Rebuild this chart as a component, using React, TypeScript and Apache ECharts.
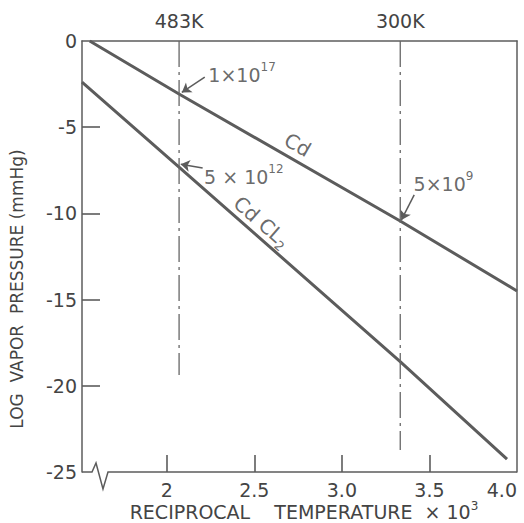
import React, { useEffect, useRef } from 'react';
import * as echarts from 'echarts';

// ---- data ----
const xMin = 1.516;
const xMax = 4.0;
const yMin = -25;
const yMax = 0;
const xTickValues = [2, 2.5, 3.0, 3.5, 4.0];
const yTickValues = [-5, -10, -15, -20];
const kelvinMarks = [1000 / 483, 1000 / 300];

const cdLine = [[1.56, 0], [2.07, -3.07], [3.333, -10.44], [4.0, -14.5]];
const cdcl2Line = [[1.516, -2.38], [2.07, -7.31], [3.333, -18.6], [3.943, -24.25]];
const guide483 = [[2.0704, 0], [2.0704, -19.37]];
const guide300 = [[3.3333, 0], [3.3333, -23.72]];

const arrowCoords = [
  [[2.217, -2.09], [2.086, -2.98]],
  [[2.205, -7.37], [2.08, -7.15]],
  [[3.413, -8.93], [3.34, -10.38]],
];

const annoPos = [[2.43, -1.97], [2.44, -7.89], [3.58, -8.29]];
const annoBase = ['1×10', '5 × 10', '5×10'];
const annoExp = ['17', '12', '9'];

const curvePos = [[2.747, -6.03], [2.542, -10.5]];
const curveText = ['{b|Cd}', '{b|Cd CL}{sub|2}'];
const curveRotate = [-30, -41];

const FONT = 'DejaVu Sans';
const INK = '#444444';
const LINE = '#5c5c5c';

// layout (pixels)
const W = 524;
const H = 523;
const GRID = { left: 82, right: 7, top: 41, bottom: 51 };
const TICK_PX_X = 17; // length of x ticks (vertical)
const TICK_PX_Y = 18; // length of y ticks (horizontal)

export default function App() {
  const ref = useRef<HTMLDivElement>(null);
  useEffect(() => {
    document.body.style.margin = '0';
    const chart = echarts.init(ref.current!, undefined, { renderer: 'svg' });
    const textBase = { fontFamily: FONT, color: INK };
    const gridW = W - GRID.left - GRID.right;
    const gridH = H - GRID.top - GRID.bottom;
    const tickLenY = ((yMax - yMin) * TICK_PX_X) / gridH;
    const tickLenX = ((xMax - xMin) * TICK_PX_Y) / gridW;
    const tickCoords = [
      ...xTickValues.filter((v) => v < xMax).map((v) => ({ coords: [[v, yMin], [v, yMin + tickLenY]] })),
      ...yTickValues.map((v) => ({ coords: [[xMin, v], [xMin + tickLenX, v]] })),
    ];
    chart.setOption({
      animation: false,
      backgroundColor: '#ffffff',
      grid: GRID,
      xAxis: [
        {
          type: 'value', min: xMin, max: xMax,
          axisLine: { show: false, onZero: false },
          splitLine: { show: false },
          axisTick: { show: false },
          axisLabel: {
            customValues: xTickValues, margin: 8, alignMaxLabel: 'right',
            formatter: (v: number) => (v === 2 ? '2' : v.toFixed(1)),
            ...textBase, fontSize: 19,
          },
        },
        {
          type: 'value', min: xMin, max: xMax, position: 'top',
          axisLine: { show: true, onZero: false, lineStyle: { color: LINE, width: 1.5 } },
          splitLine: { show: false },
          axisTick: { show: false },
          axisLabel: {
            customValues: kelvinMarks, margin: 11,
            formatter: (v: number) => Math.round(1000 / v) + 'K',
            ...textBase, fontSize: 19,
          },
        },
      ],
      yAxis: [
        {
          type: 'value', min: yMin, max: yMax, interval: 5,
          axisLine: { show: true, onZero: false, lineStyle: { color: LINE, width: 1.5 } },
          splitLine: { show: false },
          axisTick: { show: false },
          axisLabel: { margin: 5, ...textBase, fontSize: 19 },
        },
        {
          type: 'value', min: yMin, max: yMax, position: 'right',
          axisLine: { show: true, onZero: false, lineStyle: { color: LINE, width: 1.5 } },
          splitLine: { show: false },
          axisTick: { show: false },
          axisLabel: { show: false },
        },
      ],
      series: [
        { type: 'line', data: cdLine, symbol: 'none', lineStyle: { color: LINE, width: 3 } },
        { type: 'line', data: cdcl2Line, symbol: 'none', lineStyle: { color: LINE, width: 3 } },
        { type: 'line', data: guide483, symbol: 'none', lineStyle: { color: '#666666', width: 1.3, type: [26, 5, 3, 5] } },
        { type: 'line', data: guide300, symbol: 'none', lineStyle: { color: '#666666', width: 1.3, type: [26, 5, 3, 5] } },
        {
          type: 'lines', coordinateSystem: 'cartesian2d',
          symbol: ['none', 'arrow'], symbolSize: 9,
          lineStyle: { color: LINE, width: 1.5, opacity: 1 },
          data: arrowCoords.map((c) => ({ coords: c })),
        },
        {
          type: 'lines', coordinateSystem: 'cartesian2d', clip: false,
          symbol: ['none', 'none'],
          lineStyle: { color: LINE, width: 1.6, opacity: 1 },
          data: tickCoords,
        },
        {
          type: 'scatter', symbolSize: 1, itemStyle: { color: 'rgba(0,0,0,0)' }, clip: false,
          data: annoPos.map((p, i) => ({
            value: p,
            label: {
              show: true, position: 'inside',
              formatter: '{b|' + annoBase[i] + '}{s|' + annoExp[i] + '}',
              rich: {
                b: { ...textBase, fontSize: 19, lineHeight: 28, verticalAlign: 'middle' },
                s: { ...textBase, fontSize: 12, lineHeight: 12, verticalAlign: 'top' },
              },
            },
          })),
        },
        {
          type: 'scatter', symbolSize: 1, itemStyle: { color: 'rgba(0,0,0,0)' }, clip: false,
          data: curvePos.map((p, i) => ({
            value: p,
            label: {
              show: true, position: 'inside', rotate: curveRotate[i],
              formatter: curveText[i],
              rich: {
                b: { ...textBase, fontSize: 20, lineHeight: 26, verticalAlign: 'middle' },
                sub: { ...textBase, fontSize: 13, lineHeight: 13, verticalAlign: 'bottom' },
              },
            },
          })),
        },
      ],
    });

    const px = (x: number, y: number) => chart.convertToPixel({ gridIndex: 0 }, [x, y]) as number[];
    const [cx, cy] = px(xMin, yMin);
    const [rx] = px(xMax, yMin);
    chart.setOption({
      graphic: [
        {
          type: 'polyline', id: 'axisBreak',
          shape: { points: [[cx, cy], [cx + 10, cy], [cx + 14, cy - 9], [cx + 21, cy + 17], [cx + 26, cy], [rx, cy]] },
          style: { stroke: LINE, lineWidth: 1.5, fill: 'none' },
        },
        {
          type: 'text', id: 'yTitle', x: 17, y: 289, rotation: Math.PI / 2,
          style: { text: 'LOG  VAPOR  PRESSURE (mmHg)', font: `17px "${FONT}"`, fill: INK, align: 'center', verticalAlign: 'middle' },
        },
        {
          type: 'text', id: 'xTitle', x: 304, y: 512,
          style: {
            text: '{b|RECIPROCAL    TEMPERATURE  × 10}{s|3}', align: 'center', verticalAlign: 'middle',
            rich: {
              b: { fontFamily: FONT, fontSize: 19, fill: INK, lineHeight: 24, verticalAlign: 'middle' },
              s: { fontFamily: FONT, fontSize: 12, fill: INK, lineHeight: 12, verticalAlign: 'top' },
            },
          },
        },
      ],
    });
    return () => chart.dispose();
  }, []);
  return <div ref={ref} style={{ width: W, height: H }} />;
}
